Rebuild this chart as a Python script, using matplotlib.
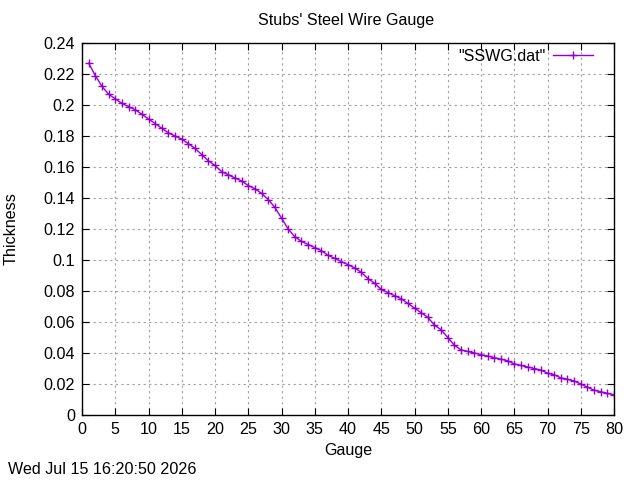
import matplotlib
matplotlib.use("Agg")
import matplotlib.pyplot as plt

gauge = list(range(1, 81))
thickness = [0.227, 0.219, 0.212, 0.207, 0.204, 0.201, 0.199, 0.197, 0.194, 0.191,
             0.188, 0.185, 0.182, 0.180, 0.178, 0.175, 0.172, 0.168, 0.164, 0.161,
             0.157, 0.155, 0.153, 0.151, 0.148, 0.146, 0.143, 0.139, 0.134, 0.127,
             0.120, 0.115, 0.112, 0.110, 0.108, 0.106, 0.103, 0.101, 0.099, 0.097,
             0.095, 0.092, 0.088, 0.085, 0.081, 0.079, 0.077, 0.075, 0.072, 0.069,
             0.066, 0.063, 0.058, 0.055, 0.050, 0.045, 0.042, 0.041, 0.040, 0.039,
             0.038, 0.037, 0.036, 0.035, 0.033, 0.032, 0.031, 0.030, 0.029, 0.027,
             0.026, 0.024, 0.023, 0.022, 0.020, 0.018, 0.016, 0.015, 0.014, 0.013]
xticks = list(range(0, 81, 5))
yticks = [0, 0.02, 0.04, 0.06, 0.08, 0.1, 0.12, 0.14, 0.16, 0.18, 0.2, 0.22, 0.24]
ytick_labels = ["0", "0.02", "0.04", "0.06", "0.08", "0.1", "0.12", "0.14", "0.16",
                "0.18", "0.2", "0.22", "0.24"]

FS = 11.6
plt.rcParams['font.family'] = ['Liberation Sans', 'DejaVu Sans']
fig = plt.figure(figsize=(6.4, 4.8), dpi=100)
ax = fig.add_axes([82/640, 1-415/480, (614-82)/640, (415-43)/480])
color = '#9400D3'
ax.plot(gauge, thickness, color=color, lw=1, marker='+', ms=6, mew=1,
        label='"SSWG.dat"')
ax.set_xlim(0, 80)
ax.set_ylim(0, 0.24)
ax.set_xticks(xticks)
ax.set_yticks(yticks)
ax.set_yticklabels(ytick_labels)
ax.tick_params(direction='in', top=True, right=True, labelsize=FS, length=5, pad=5)
ax.grid(True, color='#a0a0a0', linestyle=(0, (2, 3)), lw=0.8)
for s in ax.spines.values():
    s.set_linewidth(1)
fig.text(348/640, 1-451/480, 'Gauge', fontsize=FS, ha='center', va='center')
fig.text(11/640, 1-229/480, 'Thickness', fontsize=FS, ha='center', va='center',
         rotation=90)
fig.text(346/640, 1-20/480, "Stubs' Steel Wire Gauge", fontsize=FS, ha='center',
         va='center')
leg = ax.legend(loc='upper right', frameon=False, fontsize=FS, markerfirst=False,
                handlelength=2.5, borderaxespad=0.0, handletextpad=0.45,
                borderpad=0.3)
leg.set_bbox_to_anchor((598/640, 1-44/480), transform=fig.transFigure)
fig.text(8/640, 1-469/480, 'Wed Jul 15 16:20:50 2026', fontsize=FS, va='center')
fig.savefig('out.png', dpi=100)
